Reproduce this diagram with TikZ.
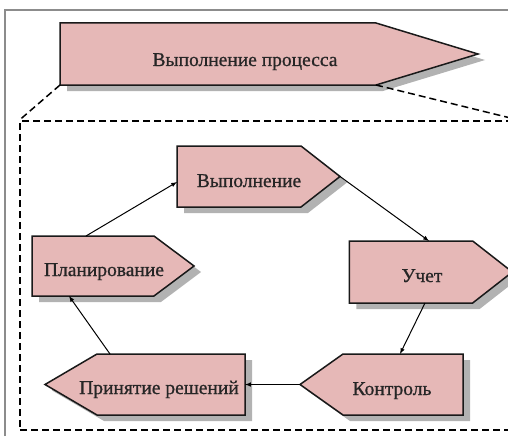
\documentclass[tikz,border=0pt]{standalone}
\usepackage{fontspec}
\setmainfont{Liberation Serif}
\usepackage{xcolor}
\usepackage{tikz}
\usetikzlibrary{shapes.symbols, arrows, shadows}
\definecolor{stagepink}{RGB}{230,184,183}
\tikzstyle{stage} = [signal, inner sep=0pt, outer sep=0pt, draw=black!90, line width=1.5pt, fill=stagepink, drop shadow={shadow xshift=7pt, shadow yshift=-6pt, fill=black!30, opacity=1}]
\tikzstyle{caption} = [anchor=base, inner sep=0pt, font=\fontsize{19.5}{22}\selectfont\addfontfeature{FakeBold=0.8}, text=black!85]
\tikzstyle{frame} = [rectangle, draw=black, line width=1.5pt, dash pattern=on 7pt off 4pt]
\tikzstyle{zoomline} = [black, line width=1.5pt, dash pattern=on 7pt off 4pt]
\tikzstyle{arrow} = [line width=1pt, ->, >=latex]

\begin{document}
\begin{tikzpicture}[x=1pt, y=-1pt]
	\useasboundingbox (0,0) rectangle (508,436);
	\draw [black!45, line width=1.2pt] (5,436) -- (5,10) -- (508,10);
	
	% top level process
	\node (proc) [stage, signal to=east, signal pointer angle=33.8, minimum width=418pt, minimum height=62pt] at (218,54) {};
	\node (proc-t) [caption] at (245,66) {Выполнение процесса};
	
	% detail frame
	\node (detail) [frame, minimum width=499pt, minimum height=309pt] at (269.5,275.5) {};
	\draw [zoomline] (proc.south west) -- (detail.north west);
	\draw [zoomline] (proc.south east) -- (detail.north east);
	
	% cycle
	\node (exec) [stage, signal to=east, signal pointer angle=76, minimum width=163pt, minimum height=61pt] at (239,176.5) {};
	\node (exec-t) [caption] at (249,187) {Выполнение};
	
	\node (acct) [stage, signal to=east, signal pointer angle=76, minimum width=163pt, minimum height=62pt] at (411,272) {};
	\node (acct-t) [caption] at (422,282) {Учет};
	
	\node (ctrl) [stage, signal to=west, signal pointer angle=70.7, minimum width=163pt, minimum height=61pt] at (403,384.5) {};
	\node (ctrl-t) [caption] at (392,395) {Контроль};
	
	\node (dec) [stage, signal to=west, signal pointer angle=60.8, minimum width=200pt, minimum height=61pt] at (171,384.5) {};
	\node (dec-t) [caption] at (159,394) {Принятие решений};
	
	\node (plan) [stage, signal to=east, signal pointer angle=73.7, minimum width=162pt, minimum height=60pt] at (93,266) {};
	\node (plan-t) [caption] at (104,276) {Планирование};
	
	\draw [arrow] ([xshift=-7pt]plan.north) -- ([yshift=-5.5pt]exec.west);
	\draw [arrow] (exec.east) -- ([xshift=18pt]acct.north);
	\draw [arrow] ([xshift=14pt]acct.south) -- ([xshift=-3pt]ctrl.north);
	\draw [arrow] (ctrl.west) -- (ctrl.west -| dec.east);
	\draw [arrow] ([xshift=-61pt]dec.north) -- ([xshift=-24pt]plan.south);
	
\end{tikzpicture}
\end{document}
